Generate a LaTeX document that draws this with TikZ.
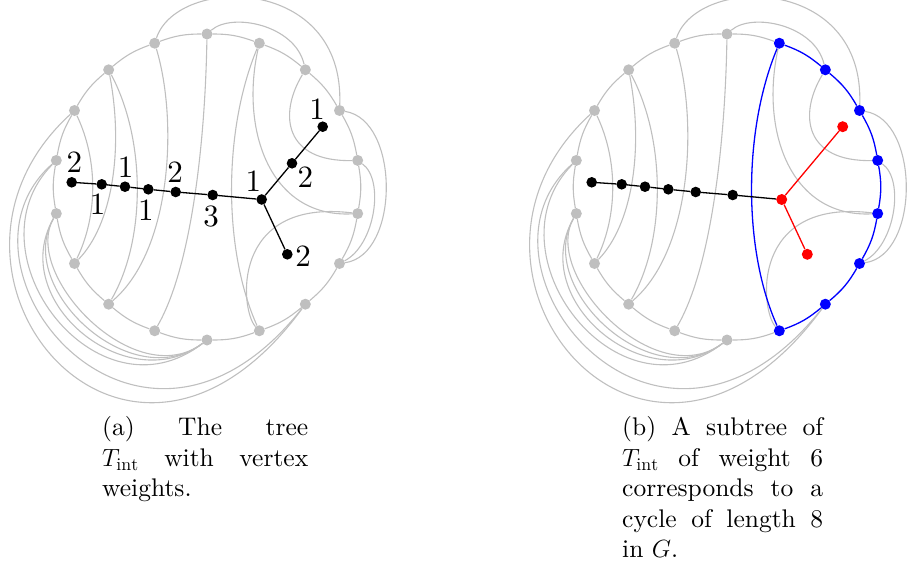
\documentclass[tikz,border=0pt]{standalone}
\usepackage{fontspec}
\setmainfont{lmroman10}[Extension=.otf, UprightFont=*-regular, ItalicFont=*-italic, BoldFont=*-bold, BoldItalicFont=*-bolditalic]
\usetikzlibrary{calc}
\pgfdeclarelayer{bg}
\pgfsetlayers{bg,main}
\definecolor{gcol}{RGB}{191,191,191}
\tikzset{
  gedge/.style={draw=gcol, line width=1.1pt},
  bedge/.style={draw=blue, line width=1.3pt},
  tedge/.style={draw=black, line width=1.3pt},
  redge/.style={draw=red, line width=1.3pt},
  gv/.style={circle, fill=gcol, inner sep=0pt, minimum size=11pt},
  bluev/.style={circle, fill=blue, inner sep=0pt, minimum size=11pt},
  blackv/.style={circle, fill=black, inner sep=0pt, minimum size=10.6pt},
  redv/.style={circle, fill=red, inner sep=0pt, minimum size=11pt},
  wlab/.style={inner sep=0pt, font=\fontsize{31}{37}\selectfont},
  capbox/.style={inner sep=0pt, anchor=north west, align=justify, font=\fontsize{25.5}{30.5}\selectfont},
}
\newcommand\gchords[1]{%
  \draw[gedge] (#115) .. controls +(23.5,49.5) and +(23.5,-48.5) .. (#112);
  \draw[gedge] (#116) .. controls +(15.3,80.2) and +(37.5,-38.5) .. (#112);
  \draw[gedge] (#116) .. controls +(37.3,70.2) and +(37.3,-64.2) .. (#111);
  \draw[gedge] (#117) .. controls +(23.3,76.8) and +(63.3,-54.2) .. (#111);
  \draw[gedge] (#10) .. controls +(-2,116) and +(35.3,-60.8) .. (#110);
  \draw[gedge] (#11) .. controls +(-19.3,86.8) and +(-87.7,4.4) .. (#15);
  \draw[gedge] (#12) .. controls +(-27.3,45.2) and +(-72.7,1.6) .. (#14);
  \draw[gedge] (#15) .. controls +(-127.7,-15.6) and +(-19.3,-20.8) .. (#18);
  \draw[gedge] (#10) .. controls +(25,-22) and +(-10.3,-44.8) .. (#12);
  \draw[gedge] (#117) .. controls +(23.3,-68.2) and +(5.5,-135.5) .. (#13);
  \draw[gedge] (#13) .. controls +(60.5,9.5) and +(60.5,-8.5) .. (#16);
  \draw[gedge] (#14) .. controls +(27.3,19.6) and +(35.5,-18.5) .. (#16);
  \draw[gedge] (#115) .. controls +(-175,160) and +(-180,245) .. (#17);
  \draw[gedge] (#114) .. controls +(-120,105.6) and +(-168,212) .. (#17);
  \draw[gedge] (#114) .. controls +(-91,92.3) and +(-110,85) .. (#19);
  \draw[gedge] (#113) .. controls +(-50,87) and +(-80,60) .. (#19);
  \draw[gedge] (#113) .. controls +(-42.5,74) and +(-76,57) .. (#19);
  \draw[gedge] (#113) .. controls +(-35,61) and +(-72,54) .. (#19);
}
\begin{document}
\begin{tikzpicture}[x=1pt,y=-1pt]
\useasboundingbox (0,0) rectangle (907,573);
\coordinate (ca) at (207,187);
\coordinate (cb) at (727,187);
% ---------- vertices of (a)
\foreach \k in {0,...,17}
  \node[gv] (a\k) at ($(ca)+({20*\k-90}:153)$) {};
% ---------- vertices of (b)
\foreach \k in {0,9,10,11,12,13,14,15,16,17}
  \node[gv] (b\k) at ($(cb)+({20*\k-90}:153)$) {};
\foreach \k in {1,...,8}
  \node[bluev] (b\k) at ($(cb)+({20*\k-90}:153)$) {};
% ---------- tree (a)
\node[blackv] (t1) at (71.7,182.3) {};
\node[blackv] (t2) at (101.7,184.3) {};
\node[blackv] (t3) at (125,186.7) {};
\node[blackv] (t4) at (148.3,189.3) {};
\node[blackv] (t5) at (175.7,192) {};
\node[blackv] (t6) at (212.7,195) {};
\node[blackv] (t7) at (261.7,199.5) {};
\node[blackv] (t8) at (292,163.3) {};
\node[blackv] (t9) at (322.7,126.7) {};
\node[blackv] (t10) at (287.3,254.3) {};
\node[wlab] (l1) at (74.4,161.7) {2};
\node[wlab] (l2) at (97.5,204.4) {1};
\node[wlab] (l3) at (125.7,166.7) {1};
\node[wlab] (l4) at (145.8,210) {1};
\node[wlab] (l5) at (175,171.7) {2};
\node[wlab] (l6) at (211,216.3) {3};
\node[wlab] (l7) at (253.3,180.7) {1};
\node[wlab] (l8) at (305.3,177.3) {2};
\node[wlab] (l9) at (317,109) {1};
\node[wlab] (l10) at (303,255.7) {2};
% ---------- tree (b)
\node[blackv] (u1) at (591.7,182.3) {};
\node[blackv] (u2) at (621.7,184.3) {};
\node[blackv] (u3) at (645,186.7) {};
\node[blackv] (u4) at (668.3,189.3) {};
\node[blackv] (u5) at (695.7,192) {};
\node[blackv] (u6) at (732.7,195) {};
\node[redv] (u7) at (781.7,199.5) {};
\node[redv] (u9) at (842.7,126.7) {};
\node[redv] (u10) at (807.3,254.3) {};
% ---------- captions
\node[capbox, text width=206pt] (capa) at (102,416.5)
  {(a) The tree\linebreak $T_{\mathrm{int}}$ with vertex\linebreak weights.};
\node[capbox, text width=201pt] (capb) at (622,416.5)
  {(b) A subtree of\linebreak $T_{\mathrm{int}}$ of weight 6\linebreak corresponds to a\linebreak cycle of length 8\linebreak in $G$.};
% ---------- edges
\begin{pgfonlayer}{bg}
  \foreach \k in {0,...,17} {
    \pgfmathtruncatemacro\nx{mod(\k+1,18)}
    \draw[gedge] (a\k) to[bend left=10] (a\nx);
  }
  \foreach \k in {0,8,9,...,17} {
    \pgfmathtruncatemacro\nx{mod(\k+1,18)}
    \draw[gedge] (b\k) to[bend left=10] (b\nx);
  }
  \foreach \k in {1,...,7} {
    \pgfmathtruncatemacro\nx{\k+1}
    \draw[bedge] (b\k) to[bend left=10] (b\nx);
  }
  \gchords{a}
  \gchords{b}
  \draw[gedge] (a1) .. controls +(-36.3,86.8) and +(-36.3,-80.8) .. (a8);
  \draw[bedge] (b1) .. controls +(-36.3,86.8) and +(-36.3,-80.8) .. (b8);
  \draw[tedge] (t1) -- (t2) -- (t3) -- (t4) -- (t5) -- (t6) -- (t7) -- (t8) -- (t9);
  \draw[tedge] (t7) -- (t10);
  \draw[tedge] (u1) -- (u2) -- (u3) -- (u4) -- (u5) -- (u6) -- (u7);
  \draw[redge] (u7) -- (u9);
  \draw[redge] (u7) -- (u10);
\end{pgfonlayer}
\end{tikzpicture}
\end{document}
